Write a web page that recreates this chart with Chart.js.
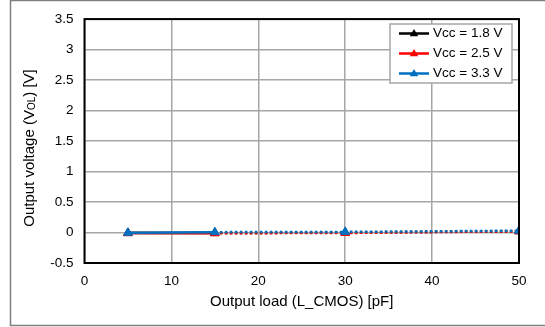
<!DOCTYPE html>
<html>
<head>
<meta charset="utf-8">
<script src="https://cdn.jsdelivr.net/npm/chart.js@4/dist/chart.umd.min.js"></script>
<style>
  html, body { margin: 0; padding: 0; background: #fff; }
  #wrap { width: 545px; height: 327px; position: relative; }
</style>
</head>
<body>
<div id="wrap"><canvas id="chart" width="545" height="327"></canvas></div>
<script>
// ── Data ─────────────────────────────────────────────
const loadPf = [5, 15, 30, 50];
const vol18 = [-0.01, -0.01, 0.0, 0.02];
const vol25 = [-0.01, -0.012, -0.008, 0.02];
const vol33 = [-0.004, 0.006, 0.01, 0.03];
const seriesLabels = ['Vcc = 1.8 V', 'Vcc = 2.5 V', 'Vcc = 3.3 V'];
const seriesColors = ['#000000', '#ff0000', '#0070c0'];
const xTitle = 'Output load (L_CMOS) [pF]';

const FONT = '"Liberation Sans", Arial, sans-serif';
const GRID = '#a6a6a6';

function makeSeries(label, values, color, order) {
  return {
    label,
    data: loadPf.map((x, i) => ({ x, y: values[i] })),
    borderColor: color,
    backgroundColor: color,
    borderWidth: 2.5,
    pointStyle: 'triangle',
    pointRadius: 5,
    pointBorderWidth: 1,
    pointBorderColor: color,
    pointBackgroundColor: color,
    tension: 0,
    order,
    // first segment solid, rest dotted
    segment: {
      borderDash: ctx => ctx.p0DataIndex >= 1 ? [2.5, 2.5] : undefined,
    },
  };
}

// outer frame + plot border + legend + y title (with subscript)
const decor = {
  id: 'decor',
  beforeDraw(chart) {
    const c = chart.ctx;
    c.save();
    c.fillStyle = '#fff';
    c.fillRect(0, 0, chart.width, chart.height);
    c.strokeStyle = '#7f7f7f';
    c.lineWidth = 1.5;
    c.strokeRect(10.5, 0.5, 600, 325);
    c.restore();
  },
  afterDatasetsDraw(chart) {
    const c = chart.ctx;
    const a = chart.chartArea;
    c.save();
    // plot border
    c.strokeStyle = '#000';
    c.lineWidth = 2;
    c.strokeRect(a.left, a.top, a.right - a.left, a.bottom - a.top);

    // legend
    const bx = 390, by = 24, bw = 122, bh = 59;
    c.fillStyle = '#fff';
    c.fillRect(bx, by, bw, bh);
    c.strokeStyle = '#a6a6a6';
    c.lineWidth = 1.5;
    c.strokeRect(bx, by, bw, bh);
    c.font = '13.5px ' + FONT;
    c.textBaseline = 'middle';
    c.textAlign = 'left';
    seriesLabels.forEach((lab, i) => {
      const y = 33.5 + i * 20;
      c.strokeStyle = seriesColors[i];
      c.lineWidth = 2.5;
      c.beginPath();
      c.moveTo(399, y);
      c.lineTo(429, y);
      c.stroke();
      c.fillStyle = seriesColors[i];
      c.beginPath();
      const r = 4.5;
      c.moveTo(414, y - r);
      c.lineTo(414 + r * 0.95, y + r * 0.6);
      c.lineTo(414 - r * 0.95, y + r * 0.6);
      c.closePath();
      c.fill();
      c.fillStyle = '#000';
      c.fillText(lab, 433, y);
    });

    // y title, rotated, with subscript
    const parts = [
      ['Output voltage (V', 15, 0],
      ['OL', 10, 3],
      [') [V]', 15, 0],
    ];
    let total = 0;
    parts.forEach(p => { c.font = p[1] + 'px ' + FONT; total += c.measureText(p[0]).width; });
    c.translate(29.5, 148);
    c.rotate(-Math.PI / 2);
    c.fillStyle = '#000';
    c.textBaseline = 'middle';
    let x = -total / 2;
    parts.forEach(p => {
      c.font = p[1] + 'px ' + FONT;
      c.fillText(p[0], x, p[2]);
      x += c.measureText(p[0]).width;
    });
    c.restore();
  },
};

new Chart(document.getElementById('chart'), {
  type: 'line',
  data: {
    datasets: [
      makeSeries(seriesLabels[0], vol18, seriesColors[0], 2),
      makeSeries(seriesLabels[1], vol25, seriesColors[1], 1),
      makeSeries(seriesLabels[2], vol33, seriesColors[2], 0),
    ],
  },
  options: {
    responsive: false,
    animation: false,
    devicePixelRatio: 1,
    layout: { padding: { left: 0, top: 16, right: 26, bottom: 0 } },
    plugins: { legend: { display: false }, tooltip: { enabled: false } },
    scales: {
      x: {
        type: 'linear',
        min: 0, max: 50,
        ticks: { stepSize: 10, color: '#000', padding: 10, font: { family: FONT, size: 13.5 }, maxRotation: 0 },
        grid: { color: GRID, lineWidth: 1.5, drawTicks: false },
        border: { display: false },
        title: { display: true, text: xTitle, color: '#000', font: { family: FONT, size: 15 }, padding: { top: 2, bottom: 16 } },
        afterFit(scale) { scale.height = 64; },
      },
      y: {
        min: -0.5, max: 3.5,
        ticks: {
          stepSize: 0.5, color: '#000', padding: 11, font: { family: FONT, size: 13.5 },
          callback: v => String(Math.round(v * 10) / 10),
        },
        grid: { color: GRID, lineWidth: 1.5, drawTicks: false },
        border: { display: false },
        afterFit(scale) { scale.width = 84.5; },
      },
    },
  },
  plugins: [decor],
});
</script>
</body>
</html>
